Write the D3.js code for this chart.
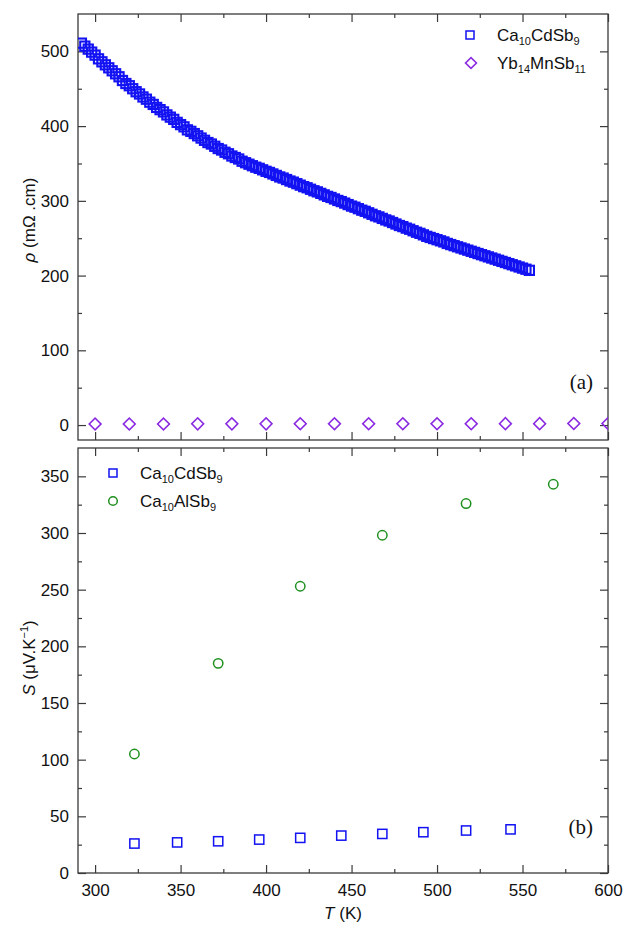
<!DOCTYPE html>
<html>
<head>
<meta charset="utf-8">
<script src="https://cdn.jsdelivr.net/npm/d3@7"></script>
<style>
  body { margin: 0; background: #fff; }
  text { font-family: "Liberation Sans", Arial, sans-serif; }
</style>
</head>
<body>
<div id="container"></div>
<script>
/* DATA */
// (a) resistivity, Ca10CdSb9, dense sweep
const rhoT = [292,294,296,298,300,302,304,306,308,310,312,314,316,318,320,322,324,326,328,330,
  332,334,336,338,340,342,344,346,348,350,352,354,356,358,360,362,364,366,368,370,
  372,374,376,378,380,382,384,386,388,390,392,394,396,398,400,402,404,406,408,410,
  412,414,416,418,420,422,424,426,428,430,432,434,436,438,440,442,444,446,448,450,
  452,454,456,458,460,462,464,466,468,470,472,474,476,478,480,482,484,486,488,490,
  492,494,496,498,500,502,504,506,508,510,512,514,516,518,520,522,524,526,528,530,
  532,534,536,538,540,542,544,546,548,550,552,554];
const rhoCd = [511,507,503,499,495,490,486,482,478,474,470,466,461,457,454,450,446,443,439,436,
  432,429,425,422,419,415,412,409,405,402,399,395,393,390,387,384,381,378,376,373,
  370,368,365,363,360,358,356,353,351,349,347,345,343.5,341.5,339.5,338,336,334,332,330.5,
  328.5,326.5,325,323,321,319,317.5,315.5,313.5,312,310,308,306,304.5,302.5,300.5,299,297,295,293,
  291.5,289.5,287.5,286,284,282,280,278.5,276.5,274.5,273,271,269,267,265.5,263.5,262,260,258,256.5,
  254.5,252.5,251,249.5,248,246.5,245,243,241.5,240,238.5,237,235.5,234,232.5,231,229.5,228,226.5,225,
  223.5,222,220.5,219,217.5,216,214.5,213,211.5,210,208.5,207];
// (a) resistivity, Yb14MnSb11
const rhoYbT = [300,320,340,360,380,400,420,440,460,480,500,520,540,560,580,600];
const rhoYb = [1.5,1.5,1.5,1.6,1.6,1.6,1.7,1.7,1.7,1.8,1.8,1.8,1.9,1.9,2.0,2.0];
// (b) Seebeck
const sT = [323,348,372,396,420,444,468,492,517,543];
const sCd = [26,27,28,29.5,31,33,34.5,36,37.5,38.5];
const sAlT = [323,372,420,468,517,568];
const sAl = [105,185,253,298,326,343];

const xMajor = [300,350,400,450,500,550,600];
const xMinor = [325,375,425,475,525,575];
const yTopMajor = [0,100,200,300,400,500];
const yTopMinor = [50,150,250,350,450];
const yBotMajor = [0,50,100,150,200,250,300,350];
const yBotMinor = [25,75,125,175,225,275,325];

const blue = "#1212f2", violet = "#8a2be2", green = "#1f8f1f", axisCol = "#3a3a3a";
const serif = '"Liberation Serif", "Times New Roman", serif';

/* SVG */
const width = 624, height = 928;
const svg = d3.select("#container").append("svg")
  .attr("width", width).attr("height", height);

const x = d3.scaleLinear().domain([290, 600]).range([78, 608]);
const yTop = d3.scaleLinear().domain([-20, 550]).range([440, 14]);
const yBot = d3.scaleLinear().domain([0, 375]).range([873, 448]);

// draws major+minor inward ticks for one side
function ticks(axisFn, scale, tr, major, minor, labels) {
  const gMaj = svg.append("g").attr("transform", tr)
    .call(axisFn(scale).tickValues(major).tickSizeInner(-8).tickSizeOuter(0)
      .tickPadding(9).tickFormat(labels ? d3.format("d") : ""));
  const gMin = svg.append("g").attr("transform", tr)
    .call(axisFn(scale).tickValues(minor).tickSizeInner(-4).tickSizeOuter(0).tickFormat(""));
  [gMaj, gMin].forEach(g => {
    g.select(".domain").remove();
    g.selectAll("line").attr("stroke", axisCol).attr("stroke-width", 1.2);
    g.selectAll("text").attr("font-size", 17).attr("fill", "#111");
  });
  return gMaj;
}

function panel(yScale, yMaj, yMin, showX, id) {
  const [y0, y1] = yScale.range();
  const [x0, x1] = x.range();
  svg.append("clipPath").attr("id", id).append("rect")
    .attr("x", x0).attr("y", y1).attr("width", x1 - x0).attr("height", y0 - y1);
  ticks(d3.axisLeft, yScale, `translate(${x0},0)`, yMaj, yMin, true);
  ticks(d3.axisRight, yScale, `translate(${x1},0)`, yMaj, yMin, false);
  ticks(d3.axisTop, x, `translate(0,${y1})`, xMajor, xMinor, false);
  const gx = ticks(d3.axisBottom, x, `translate(0,${y0})`, xMajor, xMinor, showX);
  if (showX) gx.selectAll("text").attr("dy", "0.85em");
  svg.append("rect").attr("x", x0).attr("y", y1)
    .attr("width", x1 - x0).attr("height", y0 - y1)
    .attr("fill", "none").attr("stroke", axisCol).attr("stroke-width", 1.3);
  return svg.append("g").attr("clip-path", `url(#${id})`);
}

/* PANEL (a) */
const pa = panel(yTop, yTopMajor, yTopMinor, false, "clipA");
pa.selectAll("rect.cd").data(rhoT).join("rect").attr("class", "cd")
  .attr("x", d => x(d) - 4.6).attr("y", (d, i) => yTop(rhoCd[i]) - 4.6)
  .attr("width", 9.2).attr("height", 9.2)
  .attr("fill", "none").attr("stroke", blue).attr("stroke-width", 2.1);
const diamond = d3.symbol().type(d3.symbolSquare).size(70);
pa.selectAll("path.yb").data(rhoYbT).join("path").attr("class", "yb")
  .attr("d", diamond)
  .attr("transform", (d, i) => `translate(${x(d)},${yTop(rhoYb[i])}) rotate(45)`)
  .attr("fill", "none").attr("stroke", violet).attr("stroke-width", 1.6);

/* PANEL (b) */
const pb = panel(yBot, yBotMajor, yBotMinor, true, "clipB");
pb.selectAll("rect.cd").data(sT).join("rect").attr("class", "cd")
  .attr("x", d => x(d) - 4.6).attr("y", (d, i) => yBot(sCd[i]) - 4.6)
  .attr("width", 9.2).attr("height", 9.2)
  .attr("fill", "none").attr("stroke", blue).attr("stroke-width", 1.5);
pb.selectAll("circle.al").data(sAlT).join("circle").attr("class", "al")
  .attr("cx", d => x(d)).attr("cy", (d, i) => yBot(sAl[i])).attr("r", 4.7)
  .attr("fill", "none").attr("stroke", green).attr("stroke-width", 1.5);

/* LEGENDS */
// parts: plain strings, or [sub] arrays for subscripts
function formula(g, xx, yy, parts) {
  const t = g.append("text").attr("x", xx).attr("y", yy).attr("font-size", 17).attr("fill", "#111");
  let inSub = false;
  parts.forEach(p => {
    if (typeof p === "string") {
      t.append("tspan").attr("dy", inSub ? -4 : 0).text(p);
      inSub = false;
    } else {
      t.append("tspan").attr("font-size", 11).attr("dy", inSub ? 0 : 4).text(p[0]);
      inSub = true;
    }
  });
  return t;
}
const lg = svg.append("g");
lg.append("rect").attr("x", 466).attr("y", 31).attr("width", 8).attr("height", 8)
  .attr("fill", "none").attr("stroke", blue).attr("stroke-width", 1.5);
formula(lg, 497, 41, ["Ca", ["10"], "CdSb", ["9"]]);
lg.append("path").attr("d", d3.symbol().type(d3.symbolSquare).size(60))
  .attr("transform", "translate(471,63) rotate(45)")
  .attr("fill", "none").attr("stroke", violet).attr("stroke-width", 1.6);
formula(lg, 497, 69, ["Yb", ["14"], "MnSb", ["11"]]);

lg.append("rect").attr("x", 109).attr("y", 469).attr("width", 8).attr("height", 8)
  .attr("fill", "none").attr("stroke", blue).attr("stroke-width", 1.5);
formula(lg, 140, 479, ["Ca", ["10"], "CdSb", ["9"]]);
lg.append("circle").attr("cx", 113).attr("cy", 501).attr("r", 4.3)
  .attr("fill", "none").attr("stroke", green).attr("stroke-width", 1.5);
formula(lg, 140, 507, ["Ca", ["10"], "AlSb", ["9"]]);

/* PANEL LABELS */
svg.append("text").attr("x", 593).attr("y", 389).attr("text-anchor", "end")
  .style("font-family", serif).attr("font-size", 21).attr("fill", "#111")
  .text("(a)");
svg.append("text").attr("x", 593).attr("y", 834).attr("text-anchor", "end")
  .style("font-family", serif).attr("font-size", 21).attr("fill", "#111")
  .text("(b)");

/* AXIS TITLES */
const yl1 = svg.append("text").attr("transform", "translate(35,220) rotate(-90)")
  .attr("text-anchor", "middle").attr("font-size", 17).attr("fill", "#111");
yl1.append("tspan").attr("font-style", "italic").text("ρ");
yl1.append("tspan").text(" (mΩ .cm)");

const yl2 = svg.append("text").attr("transform", "translate(35,658) rotate(-90)")
  .attr("text-anchor", "middle").attr("font-size", 17).attr("fill", "#111");
yl2.append("tspan").attr("font-style", "italic").text("S");
yl2.append("tspan").text(" (μV.K");
yl2.append("tspan").attr("font-size", 11).attr("dy", -7).text("−1");
yl2.append("tspan").attr("dy", 7).text(")");

const xl = svg.append("text").attr("x", 343).attr("y", 919)
  .attr("text-anchor", "middle").attr("font-size", 17).attr("fill", "#111");
xl.append("tspan").attr("font-style", "italic").text("T");
xl.append("tspan").text(" (K)");
</script>
</body>
</html>
